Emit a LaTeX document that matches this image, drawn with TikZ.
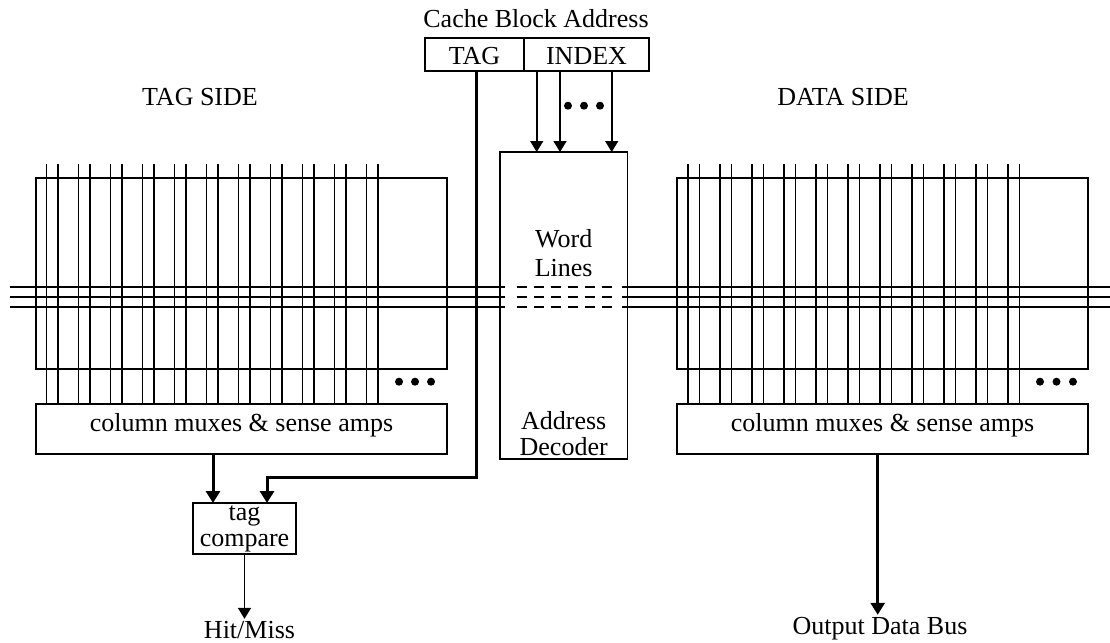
\documentclass[tikz,border=0pt]{standalone}
\usepackage{fontspec}
\setmainfont{Liberation Serif}
\usetikzlibrary{arrows.meta,calc}
\begin{document}
\begin{tikzpicture}[x=1pt,y=-1pt,
  box/.style={draw,line width=1.5pt,inner sep=0pt,outer sep=0pt},
  lbl/.style={inner sep=2pt,outer sep=0pt,font=\fontsize{26pt}{26pt}\selectfont,align=center},
  wire/.style={line width=1.6pt},
  bus/.style={line width=3pt},
  tip/.style={-{Triangle[width=13pt,length=11pt]}},
  bigtip/.style={-{Triangle[width=14pt,length=12pt]}}
]
\useasboundingbox (0,0) rectangle (1110,642);

% address fields
\node[lbl,anchor=base] (title) at (536,28) {Cache Block Address};
\node[box,anchor=north west,minimum width=99pt,minimum height=33pt] (tagf) at (425,38) {};
\node[box,anchor=north west,minimum width=125pt,minimum height=33pt] (idxf) at (524,38) {};
\node[lbl,anchor=base] (tagt) at (474.5,64) {TAG};
\node[lbl,anchor=base] (idxt) at (586.5,64) {INDEX};

% side titles
\node[lbl,anchor=base] (tside) at (200,105) {TAG SIDE};
\node[lbl,anchor=base] (dside) at (843,105) {DATA SIDE};

% arrays
\node[box,anchor=north west,minimum width=411pt,minimum height=191pt] (tarr) at (36,178) {};
\node[box,anchor=north west,minimum width=411pt,minimum height=191pt] (darr) at (677,178) {};
\node[box,anchor=north west,minimum width=411pt,minimum height=50pt] (tmux) at (36,404) {};
\node[box,anchor=north west,minimum width=411pt,minimum height=50pt] (dmux) at (677,404) {};
\node[lbl,anchor=base] (tmuxt) at (241.5,431) {column muxes \& sense amps};
\node[lbl,anchor=base] (dmuxt) at (882.5,431) {column muxes \& sense amps};

% decoder
\node[box,anchor=north west,minimum width=127.5pt,minimum height=307pt] (dec) at (500,152) {};
\node[lbl,anchor=base] (wl) at (563.7,276) {Word\\[2.3pt]Lines};
\node[lbl,anchor=base] (ad) at (563.7,455) {Address\\Decoder};

% bit lines
\foreach \i in {0,...,10}{
  \draw[wire] ({46.5+32*\i},164) -- ({46.5+32*\i},404);
  \draw[wire] ({58+32*\i},164) -- ({58+32*\i},404);
  \draw[wire] ({687.7+32*\i},164) -- ({687.7+32*\i},404);
  \draw[wire] ({699.3+32*\i},164) -- ({699.3+32*\i},404);
}

% word lines
\foreach \y in {287,297,307}{
  \draw[wire] (10,\y) -- (505,\y);
  \draw[wire,dash pattern=on 10pt off 7pt] (516.7,\y) -- (611.7,\y);
  \draw[wire] (621.7,\y) -- (1110,\y);
}

% ellipsis dots
\foreach \x in {399,415,431,1040,1056.5,1073}{
  \fill (\x,381.7) circle (4);
}
\foreach \x in {568,584,600}{
  \fill (\x,105.7) circle (4);
}

% index lines into decoder
\draw[wire,tip] (536.7,71) -- (536.7,152);
\draw[wire,tip] (560,71) -- (560,152);
\draw[wire,tip] (611.7,71) -- (611.7,152);

% tag compare
\node[box,anchor=north west,minimum width=103pt,minimum height=51pt] (cmp) at (193,503) {};
\node[lbl,anchor=base] (cmpt) at (244.5,546) {tag\\[-0.7pt]compare};
\coordinate (cin1) at ([xshift=-31.5pt]cmp.north);
\coordinate (cin2) at ([xshift=22.5pt]cmp.north);

\draw[bus,bigtip] (cin1 |- tmux.south) -- (cin1);
\draw[bus,bigtip] ([xshift=1.5pt]tagf.south) -- ([xshift=1.5pt]tagf.south |- 0,477) -| (cin2);

\node[lbl,anchor=base] (hit) at (249.5,638) {Hit/Miss};
\draw[wire,tip] (cmp.south) -- (cmp.south |- hit.north);

\node[lbl,anchor=base] (odb) at (880,634) {Output Data Bus};
\coordinate (dout) at (877.7,454);
\draw[bus,bigtip] (dout) -- (dout |- odb.north);
\end{tikzpicture}
\end{document}
